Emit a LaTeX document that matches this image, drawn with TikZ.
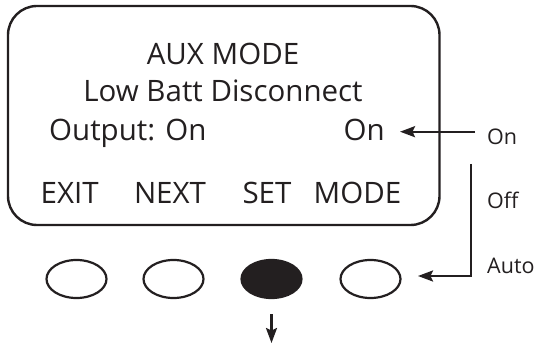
\documentclass[tikz,border=0pt]{standalone}
\usepackage{fontspec}
\setmainfont{Open Sans}
\usetikzlibrary{arrows.meta,shapes.geometric}
\definecolor{ink}{HTML}{231F20}
\begin{document}
\begin{tikzpicture}[x=1pt,y=-1pt,
  lcd/.style={inner sep=0pt, text=ink, font=\fontsize{29.5}{35}\selectfont},
  side/.style={inner sep=0pt, text=ink, font=\fontsize{21.5}{26}\selectfont, anchor=base west},
  button/.style={ellipse, draw=ink, line width=2.2pt, minimum width=60pt, minimum height=38pt, inner sep=0pt},
  arr/.style={draw=ink, line width=2.2pt, -{Stealth[length=15pt,width=11pt,inset=2.5pt]}}]
\useasboundingbox (0,0) rectangle (540,347);
% screen
\draw[ink, line width=2.4pt, rounded corners=29pt] (8,6) rectangle (439.5,225);
\node[lcd, anchor=base] (title) at (223,64.5) {AUX MODE};
\node[lcd, anchor=base] (sub) at (223,101.5) {Low Batt Disconnect};
\node[lcd, anchor=base west] (out) at (49,141) {Output: On};
\node[lcd, anchor=base east] (val) at (385,141) {On};
\node[lcd, anchor=base] (exit) at (69.7,204) {EXIT};
\node[lcd, anchor=base] (next) at (170,204) {NEXT};
\node[lcd, anchor=base] (set) at (267,204) {SET};
\node[lcd, anchor=base] (mode) at (357.5,204) {MODE};
% buttons
\node[button] (b1) at (76.5,279) {};
\node[button] (b2) at (173.5,279) {};
\node[button, fill=ink] (b3) at (271.5,279) {};
\node[button] (b4) at (370.5,279) {};
% side labels
\node[side] (lon) at (487,145) {On};
\node[side] (loff) at (487,208) {Off};
\node[side] (lauto) at (487,273.5) {Auto};
% connectors
\coordinate (onA) at (475,131.7);
\coordinate (offTop) at (471,164);
\coordinate (autoEnd) at (418,276);
\coordinate (setEnd) at (271.5,343);
\draw[arr, shorten >=15pt] (onA) -- (val.east |- onA);
\draw[arr] (offTop) |- (autoEnd);
\draw[arr, shorten <=15pt] (b3.south) -- (setEnd);
\end{tikzpicture}
\end{document}
